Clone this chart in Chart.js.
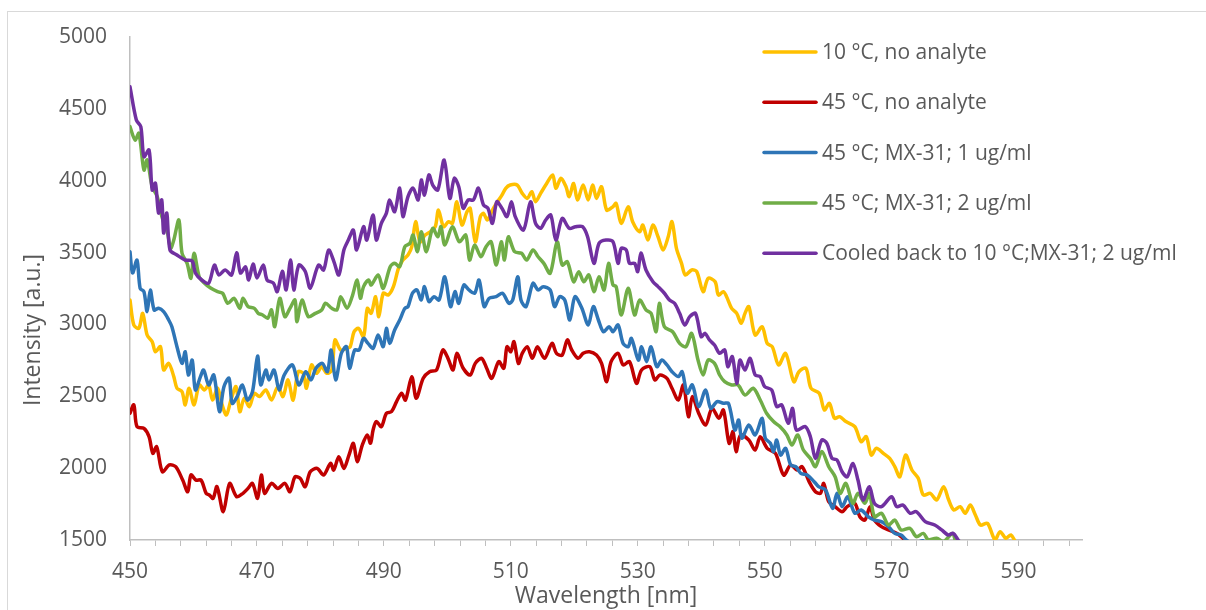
<!DOCTYPE html>
<html>
<head>
<meta charset="utf-8">
<script src="https://cdn.jsdelivr.net/npm/chart.js@4.4.1/dist/chart.umd.min.js"></script>
<style>
  html, body { margin: 0; padding: 0; background: #fff; }
  #wrap { position: relative; width: 1206px; height: 610px; overflow: hidden; }
  #frame { position: absolute; left: 7px; top: 11px; width: 1400px; height: 800px; border: 1px solid #d9d9d9; }
  #chart { position: absolute; left: 0; top: 0; }
</style>
</head>
<body>
<div id="wrap">
  <div id="frame"></div>
  <canvas id="chart" width="1206" height="610"></canvas>
</div>
<script>
// series labels and colours (Excel palette)
const seriesLabels = [
  '10 °C, no analyte',
  '45 °C, no analyte',
  '45 °C; MX-31; 1 ug/ml',
  '45 °C; MX-31; 2 ug/ml',
  'Cooled back to 10 °C;MX-31; 2 ug/ml'
];
const seriesColors = ['#FFC000', '#C00000', '#2E75B6', '#70AD47', '#7030A0'];

// x axis: labels every 20 nm, minor tick marks every 4 nm
const xTickLabels = [450, 470, 490, 510, 530, 550, 570, 590];
const xTickStep = 4;
const yTicks = [1500, 2000, 2500, 3000, 3500, 4000, 4500, 5000];

// [wavelength nm, intensity a.u.]
const cold10 = [[450,3170],[450.6,2996],[451.4,2973],[452,3077],[452.7,2926],[453.5,2880],[454,2810],[454.8,2845],[455.3,2683],[456.1,2729],[456.9,2637],[457.4,2556],[458.2,2532],[458.7,2440],[459.3,2556],[460.1,2440],[460.9,2579],[461.7,2544],[462.4,2579],[463,2474],[463.8,2556],[464.6,2428],[465.2,2370],[465.9,2474],[466.7,2567],[467.3,2393],[468,2486],[468.8,2428],[469.6,2521],[470.4,2498],[471.4,2544],[472.3,2474],[473.3,2567],[474.1,2498],[474.9,2614],[475.7,2474],[476.5,2671],[477.3,2660],[477.8,2556],[478.6,2718],[479.4,2660],[480.2,2706],[481,2660],[481.8,2683],[482.3,2892],[483.2,2822],[484.2,2834],[484.7,2845],[485.3,2949],[486,2973],[486.8,2915],[487.4,3112],[488,3077],[488.7,3193],[489.2,3054],[489.9,3217],[490.7,3205],[491.5,3263],[492.3,3390],[493,3448],[493.8,3483],[494.4,3541],[495,3715],[495.7,3575],[496.5,3622],[497.3,3645],[498.1,3680],[498.6,3796],[499.4,3680],[500.2,3715],[500.8,3703],[501.5,3854],[502.3,3692],[503.1,3784],[503.6,3808],[504.4,3575],[505.2,3750],[505.7,3773],[506.3,3727],[507.1,3796],[507.9,3854],[508.6,3900],[509.2,3947],[509.9,3970],[511,3970],[511.8,3912],[512.6,3877],[513.3,3924],[513.9,3854],[514.7,3912],[515.5,3970],[516.6,4040],[517.1,3947],[517.9,4017],[518.7,3958],[519.2,3889],[519.9,3981],[520.5,3866],[521.4,3970],[522.2,3866],[522.9,3970],[523.5,3877],[524.3,3958],[525.1,3796],[526.1,3819],[526.6,3842],[527.4,3703],[528.5,3819],[529.2,3715],[530.3,3645],[530.8,3692],[531.6,3587],[532.4,3692],[533.2,3610],[534,3518],[534.8,3610],[535.4,3715],[536.1,3529],[536.9,3425],[537.5,3344],[538.5,3379],[539.3,3367],[540.3,3228],[541.1,3321],[542.2,3297],[542.7,3205],[543.5,3228],[544,3193],[544.8,3112],[545.6,3077],[546.3,3008],[546.9,3077],[547.5,3124],[548.5,2926],[549.6,2984],[550.4,2868],[551.2,2845],[552.2,2718],[553.3,2799],[554.6,2601],[555.4,2671],[556.5,2695],[557.3,2556],[558.6,2521],[559.4,2405],[560.2,2451],[561,2347],[561.8,2358],[562.8,2324],[564.2,2289],[565.2,2184],[566,2219],[566.8,2091],[567.6,2138],[568.7,2103],[569.7,2068],[570.5,2010],[571.3,1940],[572.2,2091],[573.2,1987],[574.2,1929],[575,1813],[576.1,1825],[577.1,1778],[578.2,1871],[579,1778],[579.8,1709],[580.8,1732],[581.6,1686],[582.4,1743],[583.2,1674],[584,1604],[585.1,1616],[586.3,1500],[587.1,1558],[588,1512],[588.8,1535],[589.5,1490],[590.5,1440]];

const hot45 = [[450,2382],[450.6,2440],[451.1,2289],[452.2,2277],[453,2219],[453.6,2103],[454.2,2149],[455.1,1975],[456.2,2022],[457.2,2010],[458.3,1917],[459.1,1836],[459.6,1952],[460.4,1917],[461.2,1917],[462,1825],[462.5,1813],[463.1,1790],[463.7,1871],[464.7,1697],[465.7,1894],[466.8,1801],[467.8,1825],[468.6,1859],[469.3,1894],[470.1,1790],[470.7,1952],[471.2,1825],[472.3,1894],[473.3,1859],[474.4,1894],[475.2,1836],[476,1940],[476.8,1929],[477.6,1871],[478.4,1975],[479.5,1998],[480.5,1952],[481.6,2033],[482.1,1987],[482.9,2080],[483.7,1998],[484.5,2091],[485.2,2173],[485.8,2045],[486.6,2161],[487.4,2231],[487.9,2173],[488.3,2265],[488.8,2324],[489.6,2289],[490.4,2382],[491.2,2393],[492,2463],[492.8,2521],[493.4,2474],[494.4,2636],[495.1,2486],[496.2,2625],[497.2,2671],[498.3,2683],[499.3,2822],[500.1,2764],[500.9,2683],[501.5,2799],[502.5,2695],[503.6,2648],[504.4,2729],[505.4,2764],[506.2,2695],[507,2625],[508.1,2741],[508.9,2695],[509.4,2845],[510,2810],[510.5,2880],[511.2,2729],[511.8,2799],[512.6,2845],[513.4,2764],[514.2,2845],[515.3,2764],[516.5,2868],[517.2,2799],[518.1,2787],[518.9,2892],[519.6,2822],[520.6,2764],[521.4,2799],[522.4,2810],[523.5,2787],[524.3,2729],[525.1,2601],[525.8,2741],[526.9,2799],[527.7,2718],[528.7,2741],[529.8,2590],[530.6,2683],[531.9,2706],[532.7,2614],[533.5,2648],[534.6,2625],[535.4,2556],[536.4,2474],[537.2,2579],[538,2358],[538.6,2498],[539.6,2382],[540.7,2300],[541.7,2416],[542.8,2347],[543.5,2405],[544.4,2173],[545,2254],[545.5,2115],[546.2,2231],[547.5,2196],[548.5,2126],[549.3,2219],[550.4,2138],[551.7,2103],[553,1952],[554.1,2022],[555.1,1987],[555.9,2010],[557,1906],[558,1836],[558.8,1825],[559.3,1894],[560.1,1766],[561.1,1732],[562.2,1697],[563,1732],[564.2,1755],[565,1662],[565.8,1639],[566.6,1732],[567.3,1639],[568.4,1593],[569.5,1570],[570.8,1546],[571.5,1523],[572.3,1490],[573,1450]];

const mx1 = [[450,3506],[450.4,3358],[451.1,3448],[451.6,3251],[452.2,3228],[452.7,3089],[453.2,3240],[453.8,3101],[454.5,3112],[455.3,3089],[456.1,3031],[456.6,2984],[457.4,2845],[458.2,2729],[458.7,2810],[459.2,2648],[459.8,2752],[460.3,2544],[461.1,2637],[461.6,2683],[462.4,2579],[463.2,2648],[464.1,2393],[464.8,2567],[465.6,2625],[466.1,2451],[466.9,2498],[467.7,2579],[468.5,2474],[469.3,2532],[470.1,2780],[470.6,2579],[471.4,2683],[471.9,2614],[472.7,2683],[473.5,2544],[474.3,2648],[475.6,2718],[476.6,2579],[477.7,2671],[478.5,2614],[479.3,2695],[480.3,2729],[481.1,2671],[481.7,2822],[482.4,2614],[483.3,2799],[484.1,2845],[484.6,2695],[485.4,2822],[486.1,2822],[486.8,2903],[487.5,2868],[488.3,2834],[489.1,2926],[489.9,2845],[490.4,2973],[490.9,2868],[491.7,2961],[492.5,3031],[493.3,3112],[493.8,3124],[494.5,3217],[495.2,3240],[495.9,3170],[496.4,3263],[497.1,3159],[497.9,3193],[498.7,3170],[499.6,3332],[500.5,3124],[501.2,3228],[501.8,3147],[502.6,3274],[503.4,3240],[504.3,3217],[505,3309],[505.8,3124],[506.6,3182],[507.7,3193],[508.7,3217],[509.7,3147],[510.3,3170],[511.1,3332],[511.6,3170],[512.4,3124],[513.5,3286],[514.3,3240],[515.1,3263],[516.2,3240],[516.9,3124],[517.7,3193],[518.5,3170],[519.3,3031],[520.1,3193],[521.2,3112],[522.2,2996],[523,3124],[523.8,3031],[524.6,2949],[525.5,2984],[526.1,2949],[526.9,2996],[527.7,2868],[528.5,2845],[529,2903],[530.1,2752],[530.6,2845],[531.4,2741],[532.1,2845],[533,2706],[533.8,2752],[534.6,2718],[535.4,2671],[536.4,2637],[537,2671],[537.8,2521],[538.6,2579],[539.6,2428],[540.7,2544],[541.5,2416],[542.5,2463],[543.5,2451],[544.3,2451],[545.3,2265],[545.9,2335],[546.4,2208],[547.5,2300],[548.5,2231],[549.6,2347],[550.1,2208],[550.9,2173],[551.4,2115],[551.9,2196],[552.5,2091],[553.3,2138],[554.1,2022],[554.9,2010],[555.7,1964],[556.7,1952],[557.8,1906],[558.5,1871],[559.6,1848],[560.7,1720],[561.4,1825],[562.2,1732],[563.1,1801],[564.2,1686],[565.2,1709],[566.3,1662],[567.3,1639],[568.4,1628],[569.5,1593],[570.5,1546],[571.5,1535],[572.3,1500],[573.5,1470],[574.9,1495],[576,1440]];

const mx2 = [[450,4376],[450.8,4283],[451.4,4330],[452.2,4074],[452.7,4144],[453.5,3958],[454.3,3889],[455.1,3738],[455.9,3640],[456.4,3530],[456.9,3587],[457.7,3727],[458.2,3495],[459,3425],[459.6,3321],[460.1,3495],[460.9,3332],[461.7,3288],[462.7,3253],[463.8,3228],[464.6,3217],[465.4,3147],[466.4,3182],[467.3,3112],[467.8,3182],[468.6,3124],[469.6,3112],[470.2,3077],[470.9,3066],[471.7,3043],[472.3,3101],[472.8,2984],[473.6,3182],[474.4,3054],[475.2,3112],[476,3170],[476.3,3019],[477.1,3170],[478.1,3054],[479.2,3077],[480.2,3101],[480.8,3147],[481.8,3112],[482.6,3101],[483.2,3193],[484.2,3112],[485,3193],[485.8,3309],[486.3,3182],[486.8,3263],[487.6,3309],[488,3274],[489.1,3344],[489.9,3251],[491,3402],[491.7,3425],[492.5,3402],[493.3,3541],[494.1,3564],[494.6,3622],[495.3,3506],[495.9,3645],[496.7,3506],[497.7,3669],[498.5,3610],[499,3680],[499.6,3552],[500.8,3680],[501.9,3575],[502.9,3622],[503.5,3448],[504.3,3552],[505.3,3471],[506.1,3541],[506.9,3575],[507.7,3413],[508.5,3575],[509,3448],[509.6,3610],[510.6,3506],[511.7,3495],[512.5,3448],[513.5,3518],[514.3,3471],[515.2,3425],[516.2,3356],[517.3,3575],[518.1,3413],[518.9,3436],[519.9,3297],[520.7,3367],[521.5,3297],[522.3,3344],[523.1,3228],[523.9,3332],[524.7,3240],[525.4,3425],[526.1,3274],[526.6,3263],[527.4,3066],[528.5,3251],[529.5,3066],[530.3,3170],[531.3,3101],[532.1,3077],[532.9,2949],[533.4,3147],[534.2,2984],[535.5,2949],[536.6,2868],[537.6,2845],[538.5,2938],[539.5,2752],[540.3,2648],[541.1,2752],[542.1,2729],[542.9,2648],[543.7,2602],[544.8,2579],[545.8,2579],[546.9,2509],[548.2,2556],[549.3,2474],[550.3,2382],[551.4,2324],[552.4,2289],[553.5,2231],[554.3,2161],[555.2,2231],[556.1,2126],[557.2,2068],[558,2010],[559,2115],[560.1,2010],[561.1,1940],[561.9,1825],[562.8,1894],[563.9,1755],[564.7,1825],[565.8,1755],[566.5,1825],[567.3,1662],[568.4,1686],[569.5,1604],[570.5,1639],[571.5,1570],[572.9,1581],[573.9,1523],[575,1546],[575.8,1500],[577.1,1512],[578.2,1490],[579.6,1546],[580.1,1490],[581,1440]];

const cooledBack = [[450,4654],[451,4422],[451.7,4376],[452.2,4167],[453,4214],[453.5,3935],[454,3984],[454.5,3775],[455,3866],[455.3,3636],[455.8,3775],[456.3,3518],[457.4,3483],[458.7,3448],[459.8,3441],[460.3,3358],[461.3,3309],[462.4,3288],[463.3,3413],[464,3344],[465,3379],[466,3344],[466.8,3499],[467.4,3358],[468.2,3400],[468.7,3309],[469.4,3420],[470,3323],[471,3413],[471.6,3309],[472.6,3288],[473.2,3228],[474,3370],[474.6,3240],[475.3,3448],[475.8,3240],[476.6,3413],[477.6,3370],[478.4,3253],[479.7,3413],[480.5,3379],[481.3,3518],[482.1,3441],[482.9,3344],[483.7,3518],[484.4,3587],[485.2,3657],[485.7,3518],[486.8,3680],[487.3,3587],[488.3,3761],[488.8,3587],[489.6,3703],[490.4,3775],[490.9,3866],[491.7,3784],[492.5,3949],[493,3750],[493.8,3889],[494.6,3949],[495.4,3866],[495.9,4005],[496.4,3900],[497.1,4040],[497.7,3970],[498.5,3935],[499.5,4144],[500.4,3877],[501.1,4017],[501.8,3958],[502.5,3808],[503.3,3866],[504.1,3866],[504.9,3949],[505.7,3831],[506.4,3808],[507.1,3703],[507.8,3854],[508.6,3808],[509.4,3750],[510.1,3854],[510.7,3750],[512,3657],[513.1,3854],[513.9,3703],[514.7,3669],[515.5,3727],[516.3,3761],[517.1,3587],[518.1,3738],[519.2,3669],[520.2,3680],[521.3,3680],[522.1,3610],[523.1,3425],[523.9,3564],[525,3587],[526.1,3575],[526.9,3425],[527.4,3529],[528.2,3518],[528.7,3425],[529.5,3425],[530,3367],[530.5,3497],[531.3,3379],[532.4,3297],[533.2,3263],[534.2,3217],[535,3170],[535.8,3147],[536.6,3077],[537.4,2996],[538.2,3054],[539.1,3077],[540,2915],[540.6,2938],[541.3,2892],[542.1,2857],[542.9,2799],[543.7,2822],[544.2,2706],[544.9,2776],[545.6,2590],[546.1,2752],[546.9,2683],[547.7,2764],[548.5,2648],[549.3,2637],[550,2567],[551.1,2544],[551.9,2428],[552.7,2440],[553.7,2312],[554.4,2416],[555,2265],[556.4,2289],[557.2,2219],[558,2068],[559,2196],[559.8,2173],[560.6,2068],[561.4,2057],[562.2,1975],[563,1940],[563.9,2033],[564.7,1917],[565.5,1778],[566.5,1871],[567.3,1755],[568.4,1732],[570,1801],[570.8,1732],[571.8,1743],[572.9,1686],[573.9,1697],[575.3,1628],[576.8,1604],[577.9,1570],[578.9,1535],[579.7,1546],[580.5,1500],[581.5,1450]];

const seriesData = [cold10, hot45, mx1, mx2, cooledBack];

const textColor = '#595959';
const axisColor = '#bfbfbf';
const fontFamily = '"Open Sans", "DejaVu Sans", sans-serif';

// legend and y title drawn by hand so they sit where Excel put them
const overlay = {
  id: 'overlay',
  afterDraw(chart) {
    const ctx = chart.ctx;
    ctx.save();
    ctx.font = '21px ' + fontFamily;
    ctx.textBaseline = 'middle';
    ctx.lineCap = 'round';
    chart.data.datasets.forEach((ds, i) => {
      const y = 52 + i * 50.3;
      ctx.strokeStyle = ds.borderColor;
      ctx.lineWidth = 3.5;
      ctx.beginPath();
      ctx.moveTo(764, y);
      ctx.lineTo(816, y);
      ctx.stroke();
      ctx.fillStyle = textColor;
      ctx.textAlign = 'left';
      ctx.fillText(ds.label, 822, y + 1);
    });
    ctx.translate(33, 330);
    ctx.rotate(-Math.PI / 2);
    ctx.font = '23px ' + fontFamily;
    ctx.textAlign = 'center';
    ctx.fillText('Intensity [a.u.]', 0, 0);
    ctx.restore();
  }
};

const datasets = seriesData.map((pts, i) => ({
  label: seriesLabels[i],
  data: pts.map(p => ({ x: p[0], y: p[1] })),
  borderColor: seriesColors[i],
  backgroundColor: seriesColors[i],
  borderWidth: 3.5,
  pointRadius: 0,
  tension: 0.3,
  borderJoinStyle: 'round',
  borderCapStyle: 'round',
  clip: 0,
  order: seriesData.length - i
}));

new Chart(document.getElementById('chart'), {
  type: 'line',
  data: { datasets },
  plugins: [overlay],
  options: {
    responsive: false,
    animation: false,
    events: [],
    layout: { padding: { left: 0, top: 37, right: 124, bottom: 0 } },
    plugins: { legend: { display: false }, tooltip: { enabled: false } },
    scales: {
      x: {
        type: 'linear',
        min: 450,
        max: 600,
        afterBuildTicks: scale => {
          const ticks = [];
          for (let v = 450; v < 600; v += xTickStep) ticks.push({ value: v });
          scale.ticks = ticks;
        },
        afterFit: scale => { scale.height = 70; },
        ticks: {
          autoSkip: false,
          maxRotation: 0,
          padding: 13,
          color: textColor,
          font: { family: fontFamily, size: 21 },
          callback: v => xTickLabels.includes(v) ? String(v) : ''
        },
        grid: { display: true, drawOnChartArea: false, drawTicks: true, tickLength: 6, color: axisColor, lineWidth: 1 },
        border: { display: true, color: axisColor, width: 1.5 },
        title: {
          display: true,
          text: 'Wavelength [nm]',
          color: textColor,
          font: { family: fontFamily, size: 23 },
          padding: { top: 0, bottom: 0 }
        }
      },
      y: {
        min: 1500,
        max: 5000,
        afterBuildTicks: scale => { scale.ticks = yTicks.map(v => ({ value: v })); },
        afterFit: scale => { scale.width = 130; },
        ticks: {
          padding: 23,
          color: textColor,
          font: { family: fontFamily, size: 21 },
          callback: v => String(v)
        },
        grid: { display: false, drawTicks: false },
        border: { display: true, color: axisColor, width: 1.5 }
      }
    }
  }
});
</script>
</body>
</html>
